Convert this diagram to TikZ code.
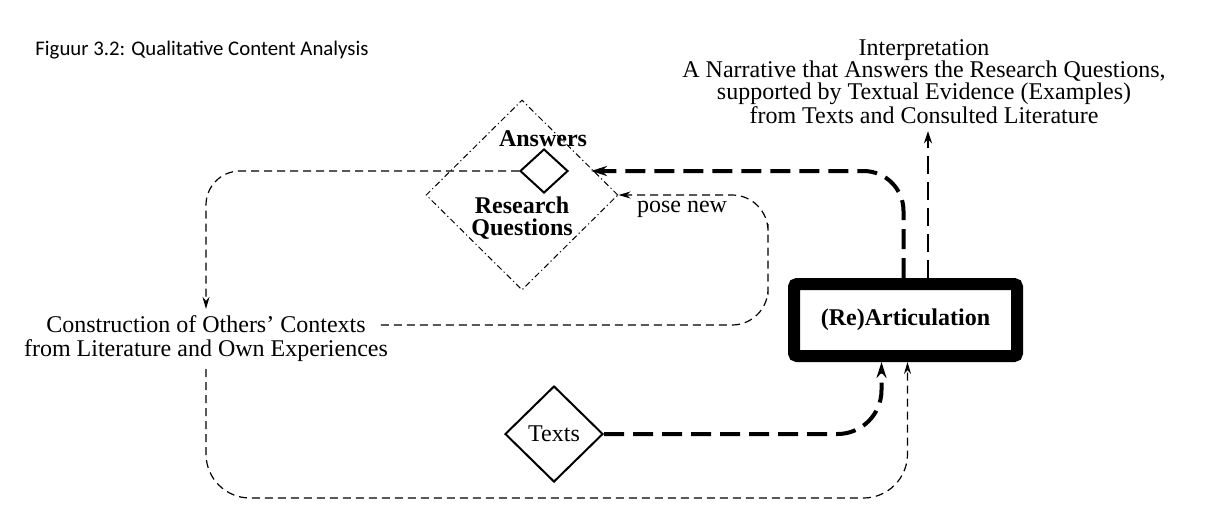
\documentclass[tikz,border=0pt]{standalone}
\usepackage{fontspec}
\setmainfont{Liberation Serif}
\newfontfamily\capfont{Carlito}
\usetikzlibrary{shapes.geometric,arrows.meta}
\tikzset{
    DM1/.style ={diamond,aspect=1,inner sep=0pt,draw,line width=1pt},
    DM2/.style ={diamond,aspect=1,inner sep=0pt,draw,line width=0.5pt,dash pattern=on 3pt off 1.5pt on 0.6pt off 1.5pt},
    RA1/.style ={rectangle,minimum width = 111.5pt, minimum height = 36pt,line width=6pt,rounded corners=1.5pt,draw},
    TL/.style ={line width=0.6pt,dash pattern=on 4pt off 2.5pt,-{Stealth[length=6pt,width=3.5pt]}},
    TK/.style ={line width=2pt,dash pattern=on 10pt off 4.5pt,-{Stealth[length=8pt,width=5pt]}}}

\begin{document}
\begin{tikzpicture}[x=0.5pt,y=-0.5pt,every node/.style={font=\fontsize{12}{12}\selectfont,align=center}]
        \useasboundingbox (0,0) rectangle (1209,515);
        \node(0) [anchor=base west,inner sep=0pt,font=\capfont\fontsize{10.4}{12}\selectfont] at (35,55) {Figuur 3.2: Qualitative Content Analysis};
        \node(1) [font=\fontsize{12}{11}\selectfont] at (924,82) {Interpretation\\A Narrative that Answers the Research Questions,\\supported by Textual Evidence (Examples)\\from Texts and Consulted Literature};
        \node(2) [DM2,minimum width=96pt,minimum height=95pt] at (522,195) {};
        \node(3) [DM1,minimum width=24pt,minimum height=22pt] at (544,171) {};
        \node(7) [font=\bfseries\fontsize{12}{12}\selectfont] at (543,139) {Answers};
        \node(8) [font=\bfseries\fontsize{12}{11}\selectfont] at (522,218) {Research\\Questions};
        \node(9) at (682,209) {pose new};
        \node(4) at (206,339) {Construction of Others' Contexts\\from Literature and Own Experiences};
        \node(5) [RA1,font=\bfseries\fontsize{12}{12}\selectfont] at (905.5,320) {(Re)Articulation};
        \node(6) [DM1,minimum width=49pt,minimum height=48pt] at (554,434) {Texts};
        \coordinate (p) at (768,260);
        \coordinate (b) at (554,498);
        \draw[TL,rounded corners=17pt] (3.west) -| (4.north);
        \draw[TL,rounded corners=18pt] ([xshift=-7pt,yshift=7pt]4.east) -| (p) |- (2.east);
        \draw[TL,rounded corners=22pt] (4.south) |- (b) -| ([xshift=1pt]5.south);
        \draw[TK,rounded corners=22pt] (6.east) -| ([xshift=-12pt]5.south);
        \draw[TK,rounded corners=20pt,shorten >=11pt] ([xshift=-1pt]5.north) |- (3.east);
        \draw[line width=1.4pt,dash pattern=on 9pt off 4pt,-{Stealth[length=6pt,width=4pt]}] ([xshift=11.25pt]5.north) -- ([xshift=2pt]1.south);
    \end{tikzpicture}
\end{document}
